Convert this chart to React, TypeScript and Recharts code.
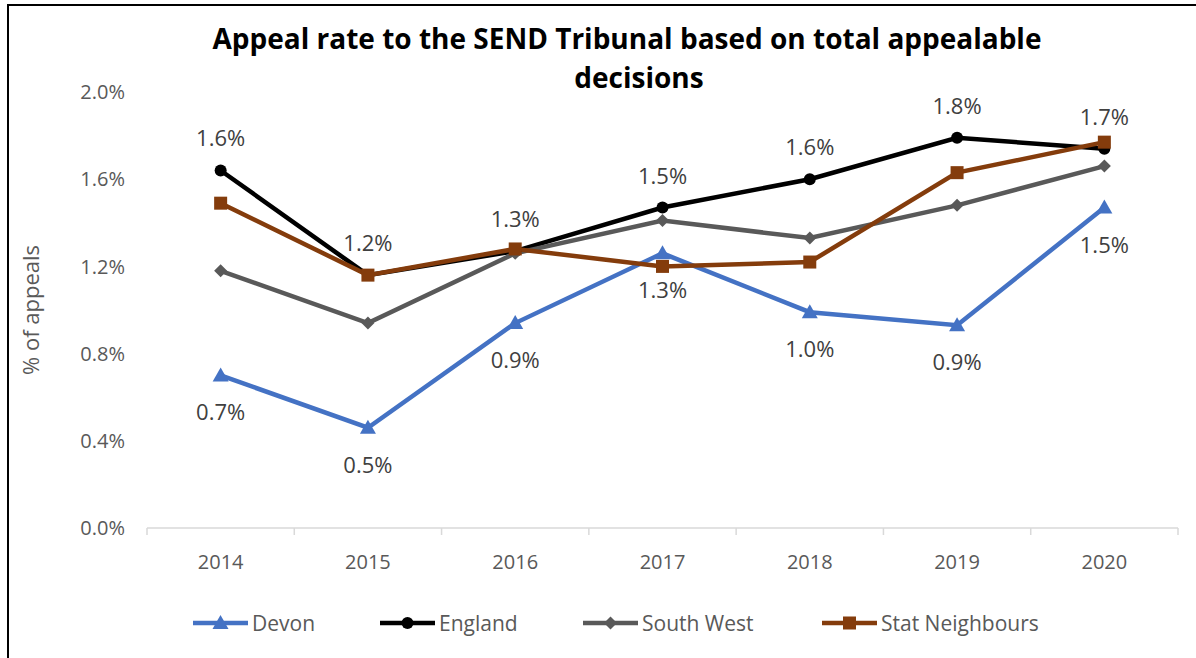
import React from 'react';
import { LineChart, Line, XAxis, YAxis, LabelList } from 'recharts';

const years = ['2014', '2015', '2016', '2017', '2018', '2019', '2020'];
const devon = [0.70, 0.46, 0.94, 1.26, 0.99, 0.93, 1.47];
const england = [1.64, 1.16, 1.27, 1.47, 1.60, 1.79, 1.74];
const southWest = [1.18, 0.94, 1.26, 1.41, 1.33, 1.48, 1.66];
const statNeighbours = [1.49, 1.16, 1.28, 1.20, 1.22, 1.63, 1.77];
const yTicks = [0, 0.4, 0.8, 1.2, 1.6, 2.0];

const data = years.map((year, i) => ({
  year,
  devon: devon[i],
  england: england[i],
  southWest: southWest[i],
  statNeighbours: statNeighbours[i],
}));

const FONT = '"Open Sans", "Noto Sans", sans-serif';
const C_DEVON = '#4472C4';
const C_ENG = '#000000';
const C_SW = '#595959';
const C_SN = '#843C0C';

type Shape = 'triangle' | 'circle' | 'diamond' | 'square';

function markerEl(shape: Shape, cx: number, cy: number, color: string) {
  if (shape === 'circle') return <circle cx={cx} cy={cy} r={6} fill={color} />;
  if (shape === 'square') return <rect x={cx - 6.5} y={cy - 6.5} width={13} height={13} fill={color} />;
  if (shape === 'diamond')
    return <polygon points={`${cx},${cy - 6.5} ${cx + 6.5},${cy} ${cx},${cy + 6.5} ${cx - 6.5},${cy}`} fill={color} />;
  return <polygon points={`${cx},${cy - 8} ${cx + 8},${cy + 6} ${cx - 8},${cy + 6}`} fill={color} />;
}

const makeDot = (shape: Shape, color: string) => (props: any) => {
  const { cx, cy, index } = props;
  if (cx == null || cy == null) return <g key={`n-${shape}-${index}`} />;
  return <g key={`d-${shape}-${index}`}>{markerEl(shape, cx, cy, color)}</g>;
};

const makeLabel = (dy: number) => (p: any) => {
  const { x, y, value, index } = p;
  return (
    <text
      key={`l-${dy}-${index}`}
      x={x}
      y={y + dy}
      textAnchor="middle"
      dominantBaseline="central"
      fill="#404040"
      fontSize={22}
      fontFamily={FONT}
    >
      {Number(value).toFixed(1)}%
    </text>
  );
};

const XTick = (props: any) => {
  const { x, y, payload, index, width, visibleTicksCount } = props;
  const n = visibleTicksCount || years.length;
  const bw = (width || 1031) / n;
  return (
    <g>
      <line x1={x - bw / 2} y1={y} x2={x - bw / 2} y2={y + 7} stroke="#d9d9d9" strokeWidth={1.5} />
      {index === n - 1 && (
        <line x1={x + bw / 2} y1={y} x2={x + bw / 2} y2={y + 7} stroke="#d9d9d9" strokeWidth={1.5} />
      )}
      <text x={x} y={y + 33} textAnchor="middle" dominantBaseline="central" fill="#595959" fontSize={20} fontFamily={FONT}>
        {payload.value}
      </text>
    </g>
  );
};

const legendItems: { name: string; color: string; shape: Shape; left: number }[] = [
  { name: 'Devon', color: C_DEVON, shape: 'triangle', left: 193 },
  { name: 'England', color: C_ENG, shape: 'circle', left: 380 },
  { name: 'South West', color: C_SW, shape: 'diamond', left: 583 },
  { name: 'Stat Neighbours', color: C_SN, shape: 'square', left: 822 },
];

export default function App() {
  return (
    <div style={{ position: 'absolute', left: 0, top: 0, width: 1196, height: 658, background: '#fff', overflow: 'hidden' }}>
      <div style={{ position: 'absolute', left: 7, top: 4, width: 1200, height: 700, borderLeft: '2px solid #000', borderTop: '2px solid #000' }} />
      <LineChart width={1196} height={658} data={data} margin={{ top: 92, right: 18, bottom: 100, left: 87 }}>
        <XAxis
          dataKey="year"
          scale="band"
          height={30}
          axisLine={{ stroke: '#d9d9d9', strokeWidth: 1.5 }}
          tickLine={false}
          tickSize={0}
          tickMargin={0}
          tick={<XTick />}
          interval={0}
        />
        <YAxis
          width={60}
          domain={[0, 2]}
          ticks={yTicks}
          axisLine={false}
          tickLine={false}
          tickSize={0}
          tickMargin={22}
          tickFormatter={(v: number) => `${v.toFixed(1)}%`}
          tick={{ fill: '#595959', fontSize: 20, fontFamily: FONT }}
        />
        <Line dataKey="devon" stroke={C_DEVON} strokeWidth={4.5} dot={makeDot('triangle', C_DEVON)} isAnimationActive={false}>
          <LabelList dataKey="devon" content={makeLabel(36)} />
        </Line>
        <Line dataKey="england" stroke={C_ENG} strokeWidth={4.5} dot={makeDot('circle', C_ENG)} isAnimationActive={false}>
          <LabelList dataKey="england" content={makeLabel(-33)} />
        </Line>
        <Line dataKey="southWest" stroke={C_SW} strokeWidth={4.5} dot={makeDot('diamond', C_SW)} isAnimationActive={false} />
        <Line dataKey="statNeighbours" stroke={C_SN} strokeWidth={4.5} dot={makeDot('square', C_SN)} isAnimationActive={false} />
      </LineChart>
      <svg style={{ position: 'absolute', left: 0, top: 0 }} width={1196} height={658} pointerEvents="none">
        <text x={627} y={49} textAnchor="middle" fontSize={28} fontWeight={700} fontFamily={FONT} fill="#000">
          Appeal rate to the SEND Tribunal based on total appealable
        </text>
        <text x={639} y={88} textAnchor="middle" fontSize={28} fontWeight={700} fontFamily={FONT} fill="#000">
          decisions
        </text>
        <text
          x={30}
          y={310}
          transform="rotate(-90 30 310)"
          textAnchor="middle"
          dominantBaseline="central"
          fontSize={22}
          fontFamily={FONT}
          fill="#595959"
        >
          % of appeals
        </text>
        {legendItems.map((it) => (
          <g key={it.name}>
            <line x1={it.left} y1={623} x2={it.left + 55} y2={623} stroke={it.color} strokeWidth={4.5} />
            {markerEl(it.shape, it.left + 27.5, 623, it.color)}
            <text x={it.left + 59} y={623} dominantBaseline="central" fontSize={21} fontFamily={FONT} fill="#595959">
              {it.name}
            </text>
          </g>
        ))}
      </svg>
    </div>
  );
}
